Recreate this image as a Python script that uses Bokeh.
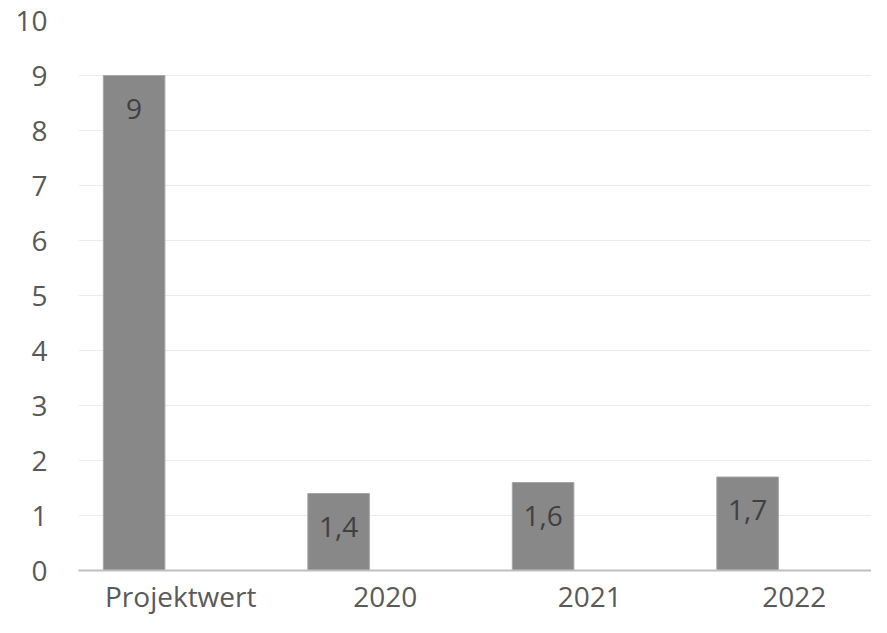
from bokeh.plotting import figure
from bokeh.models import ColumnDataSource, FixedTicker, Range1d
from bokeh.core.properties import value
from bokeh.embed import file_html
from bokeh.resources import INLINE

categories = ["Projektwert", "2020", "2021", "2022"]
values = [9, 1.4, 1.6, 1.7]
value_labels = ["9", "1,4", "1,6", "1,7"]
y_ticks = [0, 1, 2, 3, 4, 5, 6, 7, 8, 9, 10]

FONT = "Open Sans"
centers = [i + 0.5 for i in range(len(categories))]
bar_x = [c - 0.228 for c in centers]

src = ColumnDataSource(dict(x=bar_x, top=values, lab=value_labels))

p = figure(width=871, height=617, output_backend="svg", toolbar_location=None,
           x_range=Range1d(0, 3.878), y_range=Range1d(0, 10.0),
           min_border_left=78, min_border_right=0, min_border_top=20, min_border_bottom=47)
p.outline_line_color = None
p.background_fill_color = "white"
p.border_fill_color = "white"

p.vbar(x="x", top="top", width=0.301, bottom=0, source=src,
       fill_color="#888888", line_color="#a6a6a6", line_width=1)
p.text(x="x", y="top", text="lab", source=src, text_align="center",
       text_baseline="middle", y_offset=33, text_color="#404040",
       text_font=value(FONT), text_font_size="28px")

p.xgrid.grid_line_color = None
p.ygrid.grid_line_color = "#ebebeb"
p.ygrid.grid_line_width = 1
p.ygrid.ticker = FixedTicker(ticks=y_ticks[1:])

p.yaxis.ticker = FixedTicker(ticks=y_ticks)
p.yaxis.axis_line_color = None
p.yaxis.major_tick_line_color = None
p.yaxis.minor_tick_line_color = None
p.yaxis.major_tick_out = 0
p.yaxis.minor_tick_out = 0
p.yaxis.major_label_standoff = 31
p.yaxis.major_label_text_font = FONT
p.yaxis.major_label_text_font_size = "28px"
p.yaxis.major_label_text_color = "#595959"

p.xaxis.ticker = FixedTicker(ticks=centers)
p.xaxis.major_label_overrides = {c: lab for c, lab in zip(centers, categories)}
p.xaxis.axis_line_color = "#bfbfbf"
p.xaxis.axis_line_width = 2
p.xaxis.major_tick_line_color = None
p.xaxis.minor_tick_line_color = None
p.xaxis.major_tick_out = 0
p.xaxis.minor_tick_out = 0
p.xaxis.major_label_standoff = 6
p.xaxis.major_label_text_font = FONT
p.xaxis.major_label_text_font_size = "28px"
p.xaxis.major_label_text_color = "#595959"

open("out.html", "w").write(file_html(p, INLINE))
